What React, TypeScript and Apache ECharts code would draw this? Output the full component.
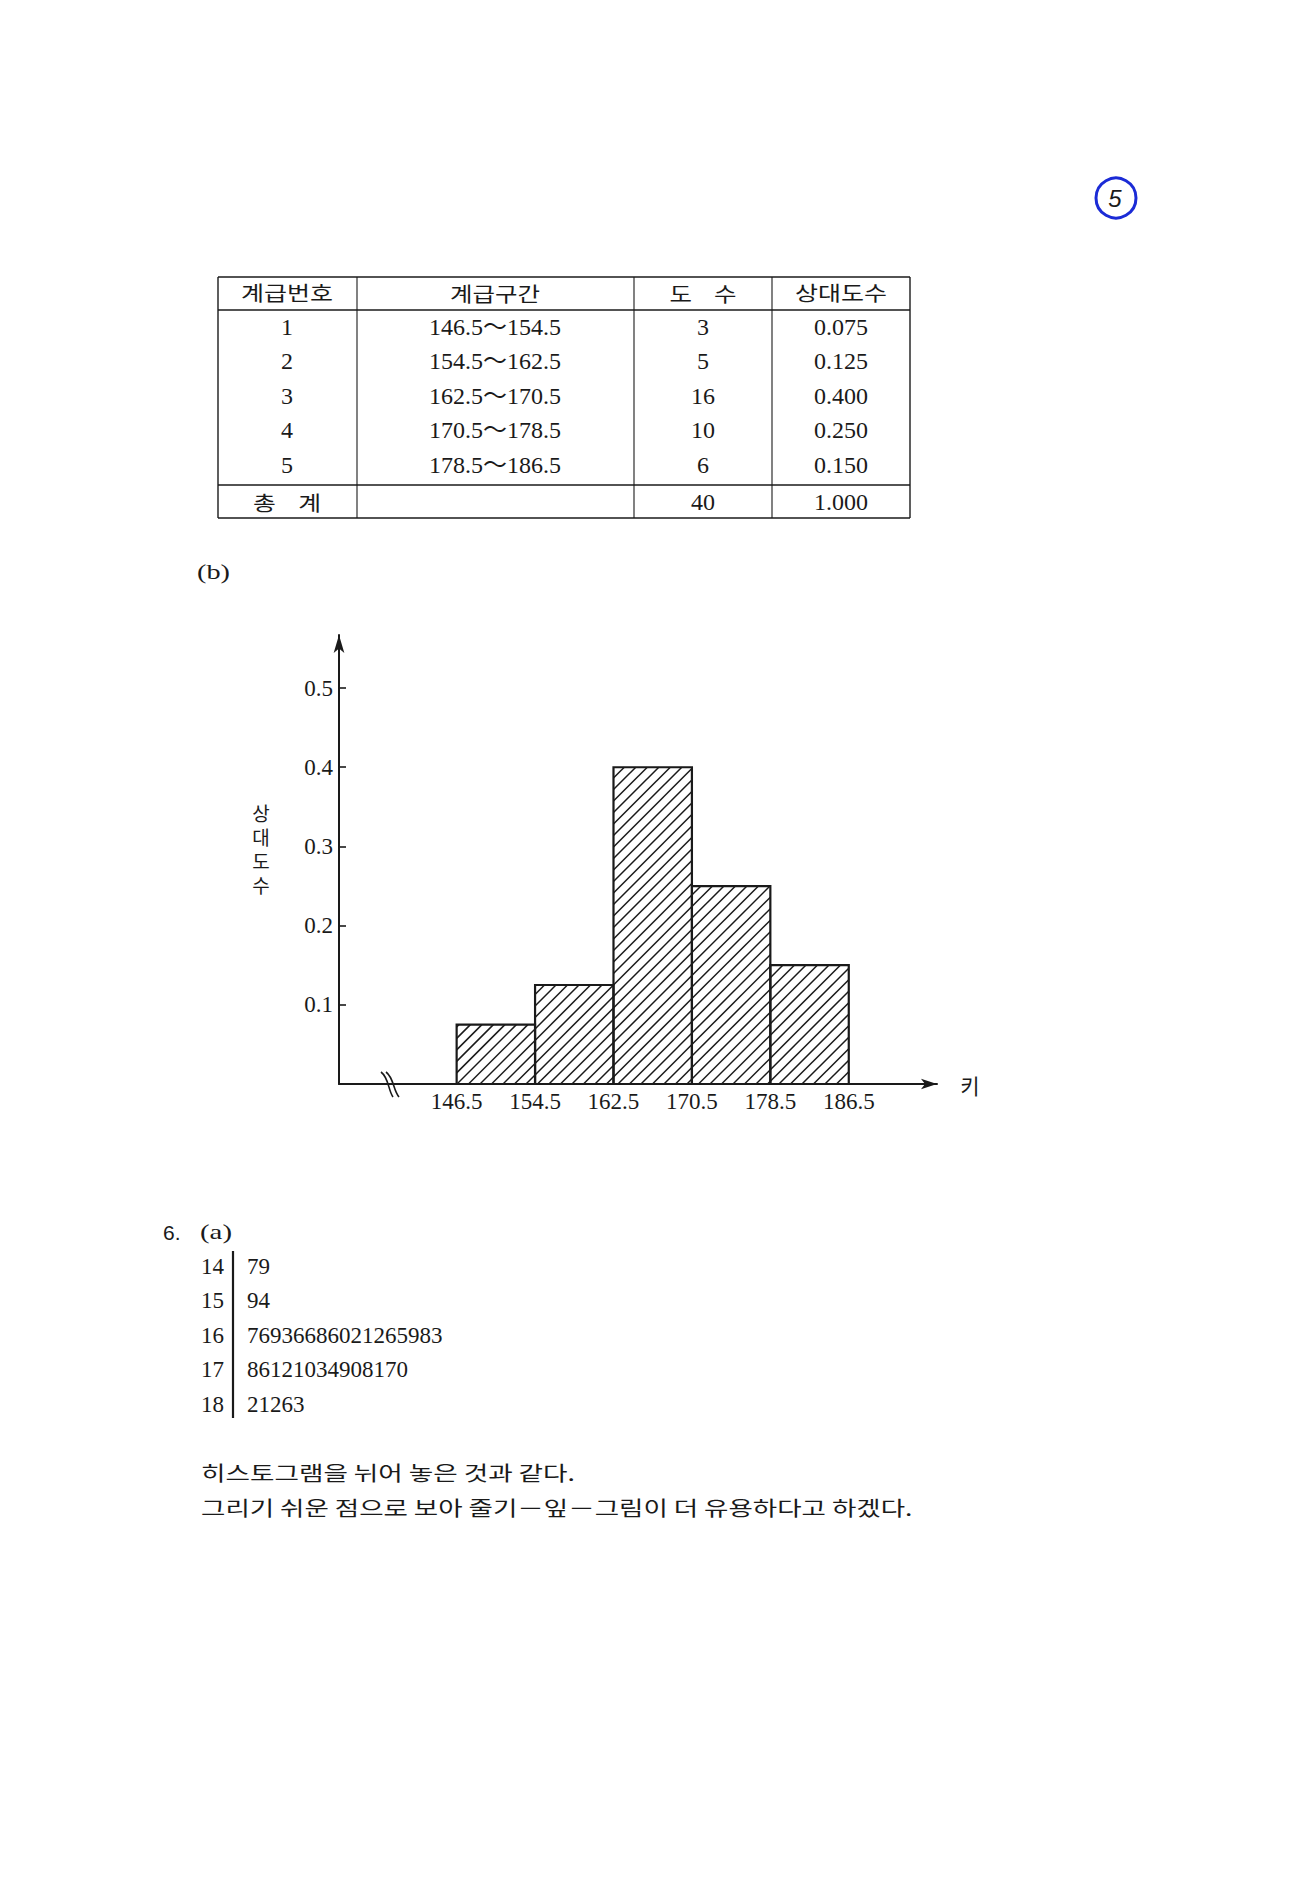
import React, { useEffect, useRef } from "react";
import * as echarts from "echarts";

// ---------- data ----------
const classNumbers = ["1", "2", "3", "4", "5"];
const classIntervals = ["146.5～154.5", "154.5～162.5", "162.5～170.5", "170.5～178.5", "178.5～186.5"];
const lowerBounds = [146.5, 154.5, 162.5, 170.5, 178.5];
const upperBounds = [154.5, 162.5, 170.5, 178.5, 186.5];
const frequencies = [3, 5, 16, 10, 6];
const relativeFrequencies = [0.075, 0.125, 0.4, 0.25, 0.15];
const totalFrequency = "40";
const totalRelative = "1.000";
const tableHeaders = ["계급번호", "계급구간", "도    수", "상대도수"];
const totalLabel = "총    계";
const yAxisNameChars = ["상", "대", "도", "수"];
const xAxisName = "키";
const xTickValues = [146.5, 154.5, 162.5, 170.5, 178.5, 186.5];
const yTickValues = [0.1, 0.2, 0.3, 0.4, 0.5];
const stems = ["14", "15", "16", "17", "18"];
const leaves = ["79", "94", "76936686021265983", "86121034908170", "21263"];
const noteLines = [
  "히스토그램을 뉘어 놓은 것과 같다.",
  "그리기 쉬운 점으로 보아 줄기－잎－그림이 더 유용하다고 하겠다.",
];

const INK = "#1a1a1a";
const SERIF = "'Liberation Serif', 'Noto Sans CJK KR', serif";
const KR = "'Noto Sans CJK KR', 'Noto Sans', sans-serif";

export default function App() {
  const ref = useRef<HTMLDivElement>(null);

  useEffect(() => {
    if (!ref.current) return;
    const chart = echarts.init(ref.current, null, { renderer: "svg" });

    const measure = (text: string, font: string) => {
      const t = new (echarts.graphic as any).Text({ style: { text, font } });
      return t.getBoundingRect().width;
    };

    const graphics: any[] = [];
    const txt = (x: number, y: number, text: string, size: number, opts: any = {}) => {
      const font = `${opts.italic ? "italic " : ""}${opts.weight || "normal"} ${size}px ${opts.family || SERIF}`;
      let scaleX = 1;
      if (opts.width) {
        const w = measure(text, font);
        if (w > 0) scaleX = opts.width / w;
      }
      graphics.push({
        type: "text",
        x,
        y,
        scaleX,
        style: {
          text,
          fill: INK,
          font,
          align: opts.align || "center",
          verticalAlign: opts.vAlign || "middle",
        },
      });
    };
    const ln = (x1: number, y1: number, x2: number, y2: number, w = 1.3, color = INK) => {
      graphics.push({ type: "line", shape: { x1, y1, x2, y2 }, style: { stroke: color, lineWidth: w } });
    };

    // circled page mark
    graphics.push({
      type: "circle",
      shape: { cx: 1116, cy: 198, r: 20 },
      style: { fill: "none", stroke: "#1b2bd6", lineWidth: 3 },
    });
    txt(1115, 198, "5", 24, { italic: true, family: "'Liberation Sans', sans-serif" });

    // ---------- table ----------
    const tL = 218, tR = 910, tT = 277, tH = 310, tTot = 485, tB = 518;
    const colX = [357, 634, 772];
    const colC = [287, 495, 703, 841];
    ln(tL, tT, tR, tT, 1.6);
    ln(tL, tH, tR, tH, 1.6);
    ln(tL, tTot, tR, tTot, 1.6);
    ln(tL, tB, tR, tB, 1.6);
    ln(tL, tT, tL, tB, 1.4);
    ln(tR, tT, tR, tB, 1.4);
    colX.forEach((x) => ln(x, tT, x, tB, 1.1));
    const headerWidths = [92, 90, 67, 92];
    tableHeaders.forEach((h, i) => txt(colC[i], 293, h, 20, { family: KR, width: headerWidths[i] }));
    const rowY = [327, 361, 396, 430, 465];
    classNumbers.forEach((n, i) => {
      txt(colC[0], rowY[i], n, 24);
      txt(colC[1], rowY[i], classIntervals[i], 24);
      txt(colC[2], rowY[i], String(frequencies[i]), 24);
      txt(colC[3], rowY[i], relativeFrequencies[i].toFixed(3), 24);
    });
    txt(colC[0], 502, totalLabel, 20, { family: KR, width: 68 });
    txt(colC[2], 502, totalFrequency, 24);
    txt(colC[3], 502, totalRelative, 24);

    // (b)
    txt(197, 571, "(b)", 22, { align: "left", width: 33 });

    // y axis name (vertical, one glyph per line)
    yAxisNameChars.forEach((ch, i) => txt(261, 812 + i * 24, ch, 19, { family: KR }));
    // x axis name
    txt(970, 1085, xAxisName, 21, { family: KR });

    // axis break mark
    graphics.push({
      type: "bezierCurve",
      shape: { x1: 381, y1: 1072, x2: 393, y2: 1097, cpx1: 389, cpy1: 1078, cpx2: 388, cpy2: 1090 },
      style: { stroke: INK, lineWidth: 1.6, fill: "none" },
    });
    graphics.push({
      type: "bezierCurve",
      shape: { x1: 386, y1: 1072, x2: 399, y2: 1097, cpx1: 394, cpy1: 1078, cpx2: 393, cpy2: 1090 },
      style: { stroke: INK, lineWidth: 1.6, fill: "none" },
    });

    // ---------- stem and leaf ----------
    txt(163, 1232, "6.", 21, { align: "left", family: "'Liberation Sans', sans-serif" });
    txt(200, 1232, "(a)", 22, { align: "left", width: 32 });
    const stemY = [1266, 1300, 1335, 1369, 1404];
    stems.forEach((s, i) => {
      txt(201, stemY[i], s, 23, { align: "left" });
      txt(247, stemY[i], leaves[i], 23, { align: "left" });
    });
    ln(233, 1251, 233, 1418, 2.2);

    // notes
    txt(201, 1473, noteLines[0], 20, { align: "left", family: KR, width: 374 });
    txt(201, 1507, noteLines[1], 20, { align: "left", family: KR, width: 712 });

    const histData = lowerBounds.map((lo, i) => [lo, upperBounds[i], relativeFrequencies[i]]);

    const option: any = {
      animation: false,
      backgroundColor: "#ffffff",
      grid: { left: 339, top: 635, width: 598, height: 449, containLabel: false },
      xAxis: {
        type: "value",
        min: 134.5,
        max: 195.5,
        axisLine: {
          show: true,
          lineStyle: { color: INK, width: 2 },
          symbol: ["none", "arrow"],
          symbolSize: [8, 16],
          onZero: false,
        },
        axisTick: { show: false },
        splitLine: { show: false },
        axisLabel: {
          customValues: xTickValues,
          formatter: (v: number) => v.toFixed(1),
          color: INK,
          fontSize: 23,
          fontFamily: SERIF,
          margin: 6,
        },
      },
      yAxis: {
        type: "value",
        min: 0,
        max: 0.567,
        axisLine: {
          show: true,
          lineStyle: { color: INK, width: 2 },
          symbol: ["none", "arrow"],
          symbolSize: [8, 18],
        },
        axisTick: { show: true, inside: true, length: 7, customValues: yTickValues, lineStyle: { color: INK, width: 1.6 } },
        splitLine: { show: false },
        axisLabel: {
          customValues: yTickValues,
          formatter: (v: number) => v.toFixed(1),
          color: INK,
          fontSize: 23,
          fontFamily: SERIF,
          margin: 6,
        },
      },
      series: [
        {
          type: "custom",
          data: histData,
          encode: { x: [0, 1], y: 2 },
          renderItem: (params: any, api: any) => {
            const p0 = api.coord([api.value(0), 0]);
            const p1 = api.coord([api.value(1), api.value(2)]);
            const x0 = p0[0], x1 = p1[0], y0 = p1[1], y1 = p0[1];
            const children: any[] = [];
            const step = 11.5;
            const cStart = Math.ceil((x0 + y0) / step) * step;
            for (let c = cStart; c <= x1 + y1; c += step) {
              const xa = Math.max(x0, c - y1);
              const xb = Math.min(x1, c - y0);
              if (xb - xa < 0.5) continue;
              children.push({
                type: "line",
                shape: { x1: xa, y1: c - xa, x2: xb, y2: c - xb },
                style: { stroke: INK, lineWidth: 1.5 },
              });
            }
            children.push({
              type: "rect",
              shape: { x: x0, y: y0, width: x1 - x0, height: y1 - y0 },
              style: { fill: "none", stroke: INK, lineWidth: 2.2 },
            });
            return { type: "group", children };
          },
        },
      ],
      graphic: graphics,
    };

    chart.setOption(option);
    return () => chart.dispose();
  }, []);

  return (
    <div
      ref={ref}
      style={{ position: "absolute", left: 0, top: 0, width: 1298, height: 1897, background: "#fff" }}
    />
  );
}
